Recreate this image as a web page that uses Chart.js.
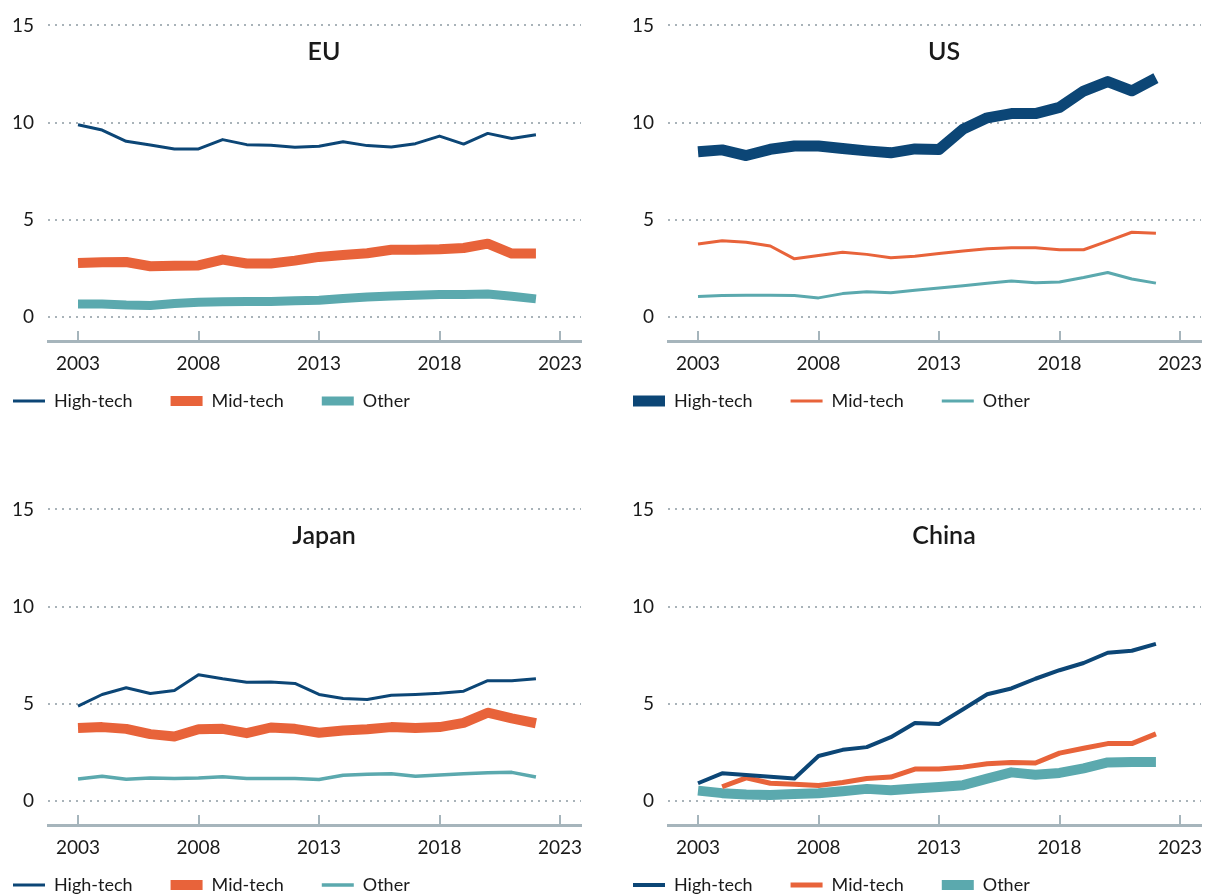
<!DOCTYPE html>
<html>
<head>
<meta charset="utf-8">
<title>Export shares by technology level</title>
<script src="https://cdn.jsdelivr.net/npm/chart.js@4.4.1/dist/chart.umd.min.js"></script>
<style>
  html, body { margin: 0; padding: 0; background: #fff; }
  #page { position: relative; width: 1216px; height: 895px; overflow: hidden; }
  #page canvas { position: absolute; }
</style>
</head>
<body>
<div id="page">
  <canvas id="eu" width="698" height="420" style="left:-25px; top:0px; width:698px; height:420px"></canvas>
  <canvas id="us" width="698" height="420" style="left:595px; top:0px; width:698px; height:420px"></canvas>
  <canvas id="jp" width="698" height="420" style="left:-25px; top:484px; width:698px; height:420px"></canvas>
  <canvas id="cn" width="698" height="420" style="left:595px; top:484px; width:698px; height:420px"></canvas>
</div>
<script>
// ---------- data ----------
const years = [2003, 2004, 2005, 2006, 2007, 2008, 2009, 2010, 2011, 2012,
               2013, 2014, 2015, 2016, 2017, 2018, 2019, 2020, 2021, 2022];
const xTicks = [2003, 2008, 2013, 2018, 2023];
const yTicks = [0, 5, 10, 15];
const seriesNames = ['High-tech', 'Mid-tech', 'Other'];

const euHigh  = [9.88, 9.61, 9.03, 8.84, 8.64, 8.64, 9.12, 8.86, 8.83, 8.72, 8.78, 9.01, 8.81, 8.74, 8.91, 9.30, 8.89, 9.44, 9.18, 9.37];
const euMid   = [2.77, 2.81, 2.82, 2.60, 2.62, 2.64, 2.94, 2.74, 2.74, 2.89, 3.08, 3.18, 3.27, 3.45, 3.45, 3.47, 3.54, 3.76, 3.25, 3.25];
const euOther = [0.65, 0.65, 0.60, 0.58, 0.68, 0.75, 0.77, 0.78, 0.78, 0.82, 0.85, 0.94, 1.02, 1.07, 1.10, 1.14, 1.14, 1.17, 1.05, 0.92];

const usHigh  = [8.49, 8.59, 8.30, 8.62, 8.79, 8.79, 8.66, 8.54, 8.44, 8.64, 8.61, 9.66, 10.24, 10.46, 10.46, 10.78, 11.62, 12.11, 11.63, 12.28];
const usMid   = [3.74, 3.91, 3.84, 3.64, 2.98, 3.15, 3.32, 3.21, 3.04, 3.11, 3.25, 3.38, 3.50, 3.55, 3.55, 3.45, 3.45, 3.89, 4.35, 4.30];
const usOther = [1.04, 1.09, 1.11, 1.11, 1.09, 0.97, 1.19, 1.29, 1.24, 1.36, 1.48, 1.60, 1.72, 1.84, 1.75, 1.79, 2.02, 2.28, 1.94, 1.73];

const jpHigh  = [4.87, 5.47, 5.82, 5.52, 5.67, 6.49, 6.28, 6.10, 6.11, 6.04, 5.47, 5.26, 5.21, 5.43, 5.47, 5.53, 5.64, 6.18, 6.18, 6.28];
const jpMid   = [3.74, 3.79, 3.70, 3.43, 3.31, 3.68, 3.70, 3.48, 3.77, 3.70, 3.50, 3.62, 3.68, 3.79, 3.75, 3.79, 4.01, 4.53, 4.24, 3.99];
const jpOther = [1.12, 1.26, 1.10, 1.17, 1.15, 1.17, 1.24, 1.14, 1.15, 1.15, 1.09, 1.31, 1.36, 1.39, 1.26, 1.32, 1.39, 1.44, 1.46, 1.22];

const cnHigh  = [0.90, 1.41, 1.32, 1.24, 1.14, 2.30, 2.62, 2.76, 3.27, 4.00, 3.95, 4.71, 5.48, 5.78, 6.28, 6.72, 7.09, 7.62, 7.72, 8.08];
const cnMid   = [null, 0.72, 1.18, 0.90, 0.85, 0.78, 0.94, 1.14, 1.22, 1.63, 1.63, 1.73, 1.90, 1.97, 1.94, 2.45, 2.70, 2.94, 2.94, 3.44];
const cnOther = [0.52, 0.39, 0.32, 0.30, 0.34, 0.39, 0.49, 0.61, 0.54, 0.63, 0.71, 0.80, 1.14, 1.46, 1.34, 1.43, 1.67, 1.97, 1.99, 1.99];

// ---------- look ----------
const NAVY = '#0c4676';
const ORANGE = '#e8633a';
const TEAL = '#5ba9ae';
const AXIS_GREY = '#a6b5bc';
const DOT_GREY = '#a9b3b9';
const TEXT = '#1a1a1a';

Chart.defaults.font.family = 'Lato, "Open Sans", sans-serif';
Chart.defaults.color = TEXT;

// small upward tick marks sitting on the x axis line
const innerTicks = {
    id: 'innerTicks',
    afterDraw(chart) {
        const x = chart.scales.x;
        const bottom = chart.chartArea.bottom;
        const ctx = chart.ctx;
        ctx.save();
        ctx.strokeStyle = AXIS_GREY;
        ctx.lineWidth = 2;
        xTicks.forEach(function (yr) {
            const px = Math.round(x.getPixelForValue(yr));
            ctx.beginPath();
            ctx.moveTo(px, bottom);
            ctx.lineTo(px, bottom - 10);
            ctx.stroke();
        });
        ctx.restore();
    }
};

function series(label, values, color, width) {
    return {
        label: label,
        data: years.map(function (yr, i) { return { x: yr, y: values[i] }; }),
        borderColor: color,
        backgroundColor: color,
        borderWidth: width,
        pointBorderWidth: width,
        pointRadius: 0,
        pointHoverRadius: 0,
        borderJoinStyle: 'round',
        tension: 0,
        fill: false
    };
}

function makePanel(id, title, high, mid, other, widths) {
    new Chart(document.getElementById(id), {
        type: 'line',
        data: {
            datasets: [
                series(seriesNames[0], high, NAVY, widths[0]),
                series(seriesNames[1], mid, ORANGE, widths[1]),
                series(seriesNames[2], other, TEAL, widths[2])
            ]
        },
        options: {
            responsive: false,
            animation: false,
            devicePixelRatio: 1,
            layout: { padding: 0 },
            scales: {
                x: {
                    type: 'linear',
                    min: 2001.755,
                    max: 2023.87,
                    afterBuildTicks: function (scale) {
                        scale.ticks = xTicks.map(function (v) { return { value: v }; });
                    },
                    afterFit: function (scale) { scale.height = 45; },
                    grid: { display: false, drawTicks: false },
                    border: { display: true, color: AXIS_GREY, width: 3 },
                    ticks: {
                        padding: 11,
                        maxRotation: 0,
                        autoSkip: false,
                        font: { size: 19 },
                        color: TEXT,
                        callback: function (v) { return String(v); }
                    }
                },
                y: {
                    min: -1.25,
                    max: 15,
                    afterBuildTicks: function (scale) {
                        scale.ticks = yTicks.map(function (v) { return { value: v }; });
                    },
                    afterFit: function (scale) { scale.width = 73; },
                    grid: { color: DOT_GREY, lineWidth: 2, drawTicks: false },
                    border: { display: false, dash: [2, 5] },
                    ticks: { padding: 14, font: { size: 19 }, color: TEXT }
                },
                // empty right-hand spacer so the panel title sits where the original has it
                spacer: {
                    type: 'linear',
                    position: 'right',
                    display: true,
                    afterFit: function (scale) { scale.width = 92; },
                    grid: { display: false, drawTicks: false },
                    border: { display: false },
                    ticks: { display: false }
                }
            },
            plugins: {
                title: {
                    display: true,
                    text: title,
                    color: TEXT,
                    font: { size: 25, weight: '600' },
                    padding: { top: 33, bottom: -41.3 }
                },
                legend: {
                    position: 'bottom',
                    align: 'start',
                    title: { display: true, text: ' ', font: { size: 10 }, padding: { top: 0, bottom: -44 } },
                    labels: {
                        usePointStyle: true,
                        pointStyle: 'line',
                        pointStyleWidth: 32,
                        padding: 38,
                        color: TEXT,
                        font: { size: 18 }
                    }
                },
                tooltip: { enabled: false }
            }
        },
        plugins: [innerTicks]
    });
}

makePanel('eu', 'EU', euHigh, euMid, euOther, [3, 10, 9]);
makePanel('us', 'US', usHigh, usMid, usOther, [11, 3, 3]);
makePanel('jp', 'Japan', jpHigh, jpMid, jpOther, [3, 10, 3.5]);
makePanel('cn', 'China', cnHigh, cnMid, cnOther, [4, 5, 10]);
</script>
</body>
</html>
